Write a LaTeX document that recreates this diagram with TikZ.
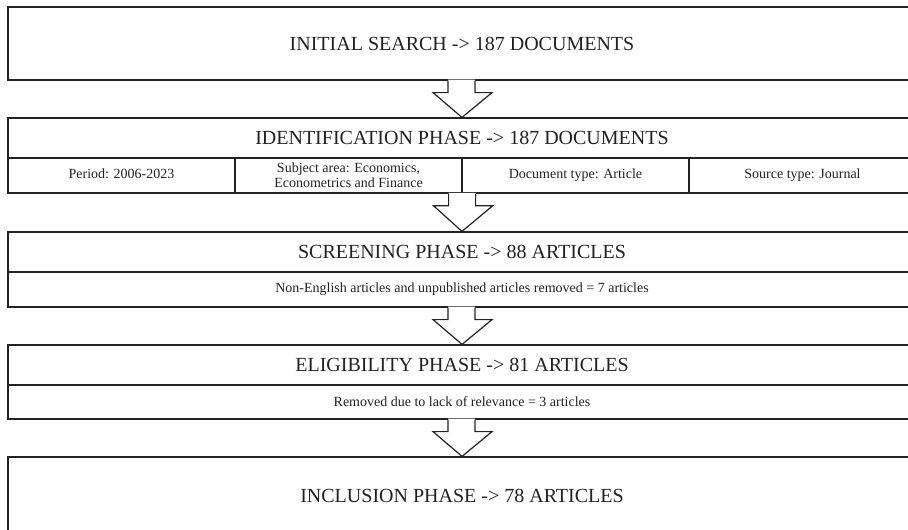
\documentclass[tikz,border=0pt]{standalone}
\usepackage{fontspec}
\setmainfont{Liberation Serif}
\usetikzlibrary{calc}
\definecolor{ink}{HTML}{222222}
\tikzset{
  boxline/.style={draw=ink, line width=1.2pt},
  titlebox/.style={boxline, rectangle, minimum width=908pt, inner sep=0pt, font=\fontsize{20}{24}\selectfont, text=ink},
  subbox/.style={boxline, rectangle, minimum width=908pt, inner sep=0pt, font=\fontsize{14}{15}\selectfont, text=ink},
  cellbox/.style={boxline, rectangle, minimum width=227pt, minimum height=35pt, inner sep=0pt, align=center, font=\fontsize{14}{15}\selectfont, text=ink},
  onecell/.style={cellbox, text height=9.5pt, text depth=3pt},
}
\newcommand\flowarr[2]{%
  \path[fill=white] let \p1=(#1.south), \p2=(#2.north) in
    (\x1-14pt,\y1+1pt) -- (\x1-14pt,\y1-12pt) -- (\x1-29pt,\y1-12pt) -- (\x2,\y2) --
    (\x1+30pt,\y1-12pt) -- (\x1+13pt,\y1-12pt) -- (\x1+13pt,\y1+1pt) -- cycle;
  \draw[boxline, line join=miter] let \p1=(#1.south), \p2=(#2.north) in
    (\x1-14pt,\y1) -- (\x1-14pt,\y1-12pt) -- (\x1-29pt,\y1-12pt) -- (\x2,\y2) --
    (\x1+30pt,\y1-12pt) -- (\x1+13pt,\y1-12pt) -- (\x1+13pt,\y1);
}
\begin{document}
\begin{tikzpicture}[x=1pt,y=1pt]
\useasboundingbox (0,0) rectangle (908,-530);
\clip (0,0) rectangle (908,-530);
\fill[white] (0,0) rectangle (908,-530);
% box 1
\node[titlebox, minimum height=73pt] (b1) at (462,-43.5) {INITIAL SEARCH -> 187 DOCUMENTS};
% box 2
\node[titlebox, minimum height=40pt] (b2) at (462,-138) {IDENTIFICATION PHASE -> 187 DOCUMENTS};
\node[onecell] (c1) at (121.5,-175.5) {Period: 2006-2023};
\node[cellbox] (c2) at (348.5,-175.5) {Subject area: Economics,\\Econometrics and Finance};
\node[onecell] (c3) at (575.5,-175.5) {Document type: Article};
\node[onecell] (c4) at (802.5,-175.5) {Source type: Journal};
\node[inner sep=0pt, minimum size=0pt] (s2) at (c2.south east) {};
% box 3
\node[titlebox, minimum height=40pt] (b3) at (462,-252) {SCREENING PHASE -> 88 ARTICLES};
\node[subbox, minimum height=35pt] (s3) at (462,-289.5) {Non-English articles and unpublished articles removed = 7 articles};
% box 4
\node[titlebox, minimum height=40pt] (b4) at (462,-365) {ELIGIBILITY PHASE -> 81 ARTICLES};
\node[subbox, minimum height=34pt] (s4) at (462,-402) {Removed due to lack of relevance = 3 articles};
% box 5
\node[titlebox, minimum height=77pt] (b5) at (462,-495.5) {INCLUSION PHASE -> 78 ARTICLES};
% arrows
\flowarr{b1}{b2}
\flowarr{s2}{b3}
\flowarr{s3}{b4}
\flowarr{s4}{b5}
\end{tikzpicture}
\end{document}
